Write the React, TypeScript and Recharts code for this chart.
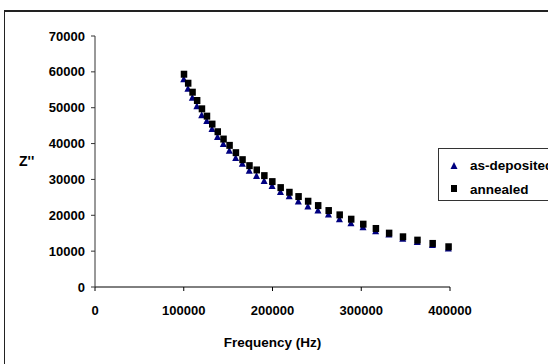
import React from 'react';
import { ScatterChart, Scatter, XAxis, YAxis } from 'recharts';

const freq = [
	100000, 104713, 109648, 114815, 120226, 125893, 131826, 138038, 144544, 151356,
	158489, 165959, 173780, 181970, 190546, 199526, 208930, 218776, 229087, 239883,
	251189, 263027, 275423, 288403, 301995, 316228, 331131, 346737, 363078, 380189, 398107,
];

const asDeposited = [
	57950, 55260, 52750, 50440, 47930, 46260, 44040, 41810, 39870, 38010,
	35970, 34400, 32450, 30970, 29580, 28190, 26520, 25310, 23830, 22440,
	21320, 20210, 18910, 17800, 16690, 15580, 14650, 13440, 12520, 11690, 10760,
];

const annealed = [
	59340, 56830, 54330, 52010, 49690, 47650, 45430, 43300, 41260, 39500,
	37460, 35510, 33840, 32640, 31060, 29390, 27720, 26420, 25220, 23920,
	22710, 21320, 20120, 18910, 17520, 16320, 15020, 14000, 13070, 12150, 11220,
];

const xTicks = [0, 100000, 200000, 300000, 400000];
const yTicks = [0, 10000, 20000, 30000, 40000, 50000, 60000, 70000];

const depData = freq.map((f, i) => ({ f, z: asDeposited[i] }));
const annData = freq.map((f, i) => ({ f, z: annealed[i] }));

const font = '"Liberation Sans", Arial, sans-serif';

const Triangle = (props: any) => {
	const { cx, cy } = props;
	return <polygon points={`${cx},${cy - 4} ${cx - 3.5},${cy + 3} ${cx + 3.5},${cy + 3}`} fill="#000080" />;
};

const Square = (props: any) => {
	const { cx, cy } = props;
	return <rect x={cx - 3} y={cy - 3.5} width={6.5} height={7} fill="#000" />;
};

const LegendBox = () => (
	<div style={{
		position: 'absolute', left: 438, top: 148, width: 140, height: 53,
		border: '1px solid #333', background: '#fff', boxSizing: 'border-box',
		fontFamily: font, fontWeight: 'bold', fontSize: 13.5, color: '#000',
	}}>
		<svg width={8} height={8} style={{ position: 'absolute', left: 11, top: 13 }}>
			<polygon points="4,0 0.5,7 7.5,7" fill="#000080" />
		</svg>
		<div style={{ position: 'absolute', left: 31, top: 10, lineHeight: '14px' }}>as-deposited</div>
		<svg width={8} height={8} style={{ position: 'absolute', left: 12, top: 36 }}>
			<rect x={0} y={0} width={6} height={7} fill="#000" />
		</svg>
		<div style={{ position: 'absolute', left: 31, top: 34, lineHeight: '14px' }}>annealed</div>
	</div>
);

export default function App() {
	return (
		<div style={{ position: 'absolute', left: 0, top: 0, width: 548, height: 364, overflow: 'hidden', background: '#fff' }}>
			<div style={{ position: 'absolute', left: 4, top: 10, width: 544, height: 2, background: '#222' }} />
			<div style={{ position: 'absolute', left: 4, top: 10, width: 1, height: 354, background: '#222' }} />
			<div style={{ position: 'absolute', left: 0, top: 0 }}>
				<ScatterChart width={548} height={364} margin={{ top: 36, right: 98, left: 0, bottom: 0 }}>
					<XAxis
						type="number"
						dataKey="f"
						domain={[0, 400000]}
						ticks={xTicks}
						height={77}
						tickSize={4}
						tickMargin={15}
						stroke="#000"
						tick={{ fill: '#000', fontSize: 13, fontWeight: 'bold', fontFamily: font }}
						label={{ value: 'Frequency (Hz)', position: 'insideBottom', offset: 17, fill: '#000', fontSize: 13.5, fontWeight: 'bold', fontFamily: font }}
					/>
					<YAxis
						type="number"
						dataKey="z"
						domain={[0, 70000]}
						ticks={yTicks}
						width={95}
						tickSize={4}
						tickMargin={6}
						stroke="#333"
						tick={{ fill: '#000', fontSize: 13, fontWeight: 'bold', fontFamily: font }}
						label={{ value: "Z''", position: 'insideLeft', offset: 19, fill: '#000', fontSize: 14, fontWeight: 'bold', fontFamily: font }}
					/>
					<Scatter name="as-deposited" data={depData} shape={Triangle} isAnimationActive={false} />
					<Scatter name="annealed" data={annData} shape={Square} isAnimationActive={false} />
				</ScatterChart>
			</div>
			<LegendBox />
		</div>
	);
}
